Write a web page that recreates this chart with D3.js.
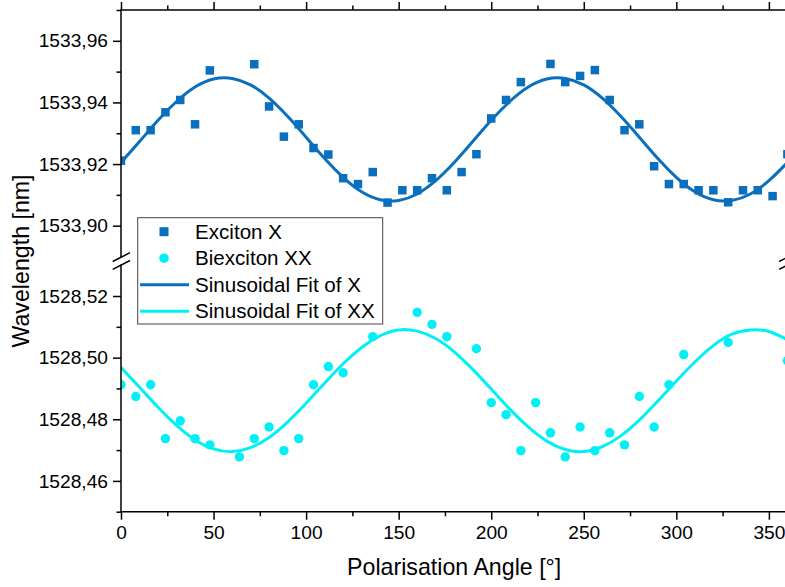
<!DOCTYPE html>
<html>
<head>
<meta charset="utf-8">
<script src="https://cdn.jsdelivr.net/npm/d3@7"></script>
<style>
  html, body { margin: 0; padding: 0; background: #fff; }
  svg { display: block; font-family: "Liberation Sans", Arial, sans-serif; }
</style>
</head>
<body>
<svg id="chart" width="785" height="587"></svg>
<script>
// ---------------- DATA ----------------
const xAngles = [0,8,16,24,32,40,48,72,80,88,96,104,112,120,128,136,144,152,160,168,176,184,192,200,208,216,232,240,248,256,264,272,280,288,296,304,312,320,328,336,344,352,360];
const xValues = [1533.9211,1533.9310,1533.9310,1533.9368,1533.9408,1533.9329,1533.9504,1533.9524,1533.9387,1533.9289,1533.9329,1533.9252,1533.9231,1533.9154,1533.9135,1533.9174,1533.9075,1533.9115,1533.9115,1533.9154,1533.9115,1533.9174,1533.9232,1533.9348,1533.9408,1533.9466,1533.9525,1533.9466,1533.9486,1533.9505,1533.9408,1533.9310,1533.9329,1533.9193,1533.9135,1533.9135,1533.9115,1533.9115,1533.9076,1533.9115,1533.9115,1533.9096,1533.9232];

const xxAngles = [0,8,16,24,32,40,48,64,72,80,88,96,104,112,120,136,160,168,176,192,200,208,216,224,232,240,248,256,264,272,280,288,296,304,328,360];
const xxValues = [1528.4912,1528.4874,1528.4912,1528.4737,1528.4795,1528.4737,1528.4717,1528.4678,1528.4737,1528.4775,1528.4698,1528.4737,1528.4912,1528.4971,1528.4951,1528.5068,1528.5147,1528.5108,1528.5068,1528.5029,1528.4854,1528.4815,1528.4698,1528.4854,1528.4756,1528.4678,1528.4775,1528.4698,1528.4756,1528.4717,1528.4874,1528.4775,1528.4912,1528.5010,1528.5049,1528.4990];

const fitAngles = [0,10,20,30,40,50,60,70,80,90,100,110,120,130,140,150,160,170,180,190,200,210,220,230,240,250,260,270,280,290,300,310,320,330,340,350,360];
const fitX = [1533.9205,1533.9273,1533.9342,1533.9403,1533.9450,1533.9476,1533.9478,1533.9457,1533.9414,1533.9355,1533.9287,1533.9218,1533.9157,1533.9110,1533.9084,1533.9082,1533.9103,1533.9146,1533.9205,1533.9273,1533.9342,1533.9403,1533.9450,1533.9476,1533.9478,1533.9457,1533.9414,1533.9355,1533.9287,1533.9218,1533.9157,1533.9110,1533.9084,1533.9082,1533.9103,1533.9146,1533.9205];
const fitXX = [1528.4968,1528.4904,1528.4839,1528.4780,1528.4733,1528.4704,1528.4695,1528.4708,1528.4741,1528.4791,1528.4852,1528.4917,1528.4980,1528.5033,1528.5071,1528.5090,1528.5086,1528.5062,1528.5019,1528.4962,1528.4898,1528.4833,1528.4775,1528.4729,1528.4702,1528.4695,1528.4711,1528.4746,1528.4797,1528.4859,1528.4924,1528.4986,1528.5039,1528.5076,1528.5090,1528.5085,1528.5058];

const xMajorTicks = [0,50,100,150,200,250,300,350];
const xMinorTicks = [25,75,125,175,225,275,325];
const upperMajorTicks = [1533.90,1533.92,1533.94,1533.96];
const upperMinorTicks = [1533.91,1533.93,1533.95,1533.97];
const lowerMajorTicks = [1528.46,1528.48,1528.50,1528.52];
const lowerMinorTicks = [1528.45,1528.47,1528.49,1528.51];

const legendLabels = ["Exciton X","Biexciton XX","Sinusoidal Fit of X","Sinusoidal Fit of XX"];
const xTitle = "Polarisation Angle [°]";
const yTitle = "Wavelength [nm]";

// ---------------- LAYOUT ----------------
const colX = "#0A70BE";
const colXX = "#00F0F5";
const left = 121, right = 787.4;
const upTop = 10, upBot = 256.5;
const loTop = 265.2, loBot = 511.7;

const svg = d3.select("#chart");
const loc = d3.formatLocale({decimal: ",", thousands: ".", grouping: [3], currency: ["", ""]});
const fmt = loc.format(".2f");

const x = d3.scaleLinear().domain([0, 360]).range([left, right]);
const yU = d3.scaleLinear().domain([1533.89, 1533.97]).range([upBot, upTop]);
const yL = d3.scaleLinear().domain([1528.45, 1528.53]).range([loBot, loTop]);

const defs = svg.append("defs");
defs.append("clipPath").attr("id", "clipU").append("rect")
  .attr("x", left).attr("y", upTop).attr("width", right - left).attr("height", upBot - upTop);
defs.append("clipPath").attr("id", "clipL").append("rect")
  .attr("x", left).attr("y", loTop).attr("width", right - left).attr("height", loBot - loTop);

// fit lines
const gU = svg.append("g").attr("clip-path", "url(#clipU)");
const gL = svg.append("g").attr("clip-path", "url(#clipL)");

const lineU = d3.line().x((d, i) => x(fitAngles[i])).y(d => yU(d)).curve(d3.curveNatural);
const lineL = d3.line().x((d, i) => x(fitAngles[i])).y(d => yL(d)).curve(d3.curveNatural);

gU.append("path").attr("d", lineU(fitX)).attr("fill", "none").attr("stroke", colX).attr("stroke-width", 3);
gL.append("path").attr("d", lineL(fitXX)).attr("fill", "none").attr("stroke", colXX).attr("stroke-width", 3);

// points
const sq = 8.5;
gU.selectAll("rect.pt").data(xValues).join("rect").attr("class", "pt")
  .attr("x", (d, i) => x(xAngles[i]) - sq / 2).attr("y", d => yU(d) - sq / 2)
  .attr("width", sq).attr("height", sq).attr("fill", colX);
gL.selectAll("circle.pt").data(xxValues).join("circle").attr("class", "pt")
  .attr("cx", (d, i) => x(xxAngles[i])).attr("cy", d => yL(d)).attr("r", 4.7).attr("fill", colXX);

// ---------------- AXES ----------------
function styleAxis(g) {
  g.select(".domain").remove();
  g.selectAll(".tick line").attr("stroke", "#000").attr("stroke-width", 1.5);
  g.selectAll(".tick text").attr("fill", "#000").attr("font-size", "19.2px")
    .attr("font-family", "'Liberation Sans', Arial, sans-serif");
}

// bottom axis
svg.append("g").attr("transform", `translate(0,${loBot})`)
  .call(d3.axisBottom(x).tickValues(xMajorTicks).tickSize(8).tickPadding(6).tickFormat(d3.format("d")))
  .call(styleAxis);
svg.append("g").attr("transform", `translate(0,${loBot})`)
  .call(d3.axisBottom(x).tickValues(xMinorTicks).tickSize(4.5).tickFormat(""))
  .call(styleAxis);
// top axis (no labels)
svg.append("g").attr("transform", `translate(0,${upTop})`)
  .call(d3.axisTop(x).tickValues(xMajorTicks).tickSize(8).tickFormat(""))
  .call(styleAxis);
svg.append("g").attr("transform", `translate(0,${upTop})`)
  .call(d3.axisTop(x).tickValues(xMinorTicks).tickSize(4.5).tickFormat(""))
  .call(styleAxis);

// left axes
svg.append("g").attr("transform", `translate(${left},0)`)
  .call(d3.axisLeft(yU).tickValues(upperMajorTicks).tickSize(8).tickPadding(5).tickFormat(fmt))
  .call(styleAxis);
svg.append("g").attr("transform", `translate(${left},0)`)
  .call(d3.axisLeft(yU).tickValues(upperMinorTicks).tickSize(4.5).tickFormat(""))
  .call(styleAxis);
svg.append("g").attr("transform", `translate(${left},0)`)
  .call(d3.axisLeft(yL).tickValues(lowerMajorTicks).tickSize(8).tickPadding(5).tickFormat(fmt))
  .call(styleAxis);
svg.append("g").attr("transform", `translate(${left},0)`)
  .call(d3.axisLeft(yL).tickValues(lowerMinorTicks).tickSize(4.5).tickFormat(""))
  .call(styleAxis);

// axis lines
const axisLines = [
  [left, upTop, right, upTop],
  [left, loBot, right, loBot],
  [left, upTop, left, upBot],
  [left, loTop, left, loBot],
  [right, upTop, right, upBot],
  [right, loTop, right, loBot]
];
svg.append("g").selectAll("line").data(axisLines).join("line")
  .attr("x1", d => d[0]).attr("y1", d => d[1]).attr("x2", d => d[2]).attr("y2", d => d[3])
  .attr("stroke", "#000").attr("stroke-width", 1.5).attr("stroke-linecap", "square");

// break marks
[left, right].forEach(cx => {
  const g = svg.append("g");
  [0, 7.8].forEach(o => {
    g.append("line")
      .attr("x1", cx - 8.3).attr("y1", 261.5 + o)
      .attr("x2", cx + 9).attr("y2", 252.7 + o)
      .attr("stroke", "#000").attr("stroke-width", 1.5);
  });
});

// axis titles
svg.append("text").attr("x", (left + right) / 2).attr("y", 575)
  .attr("text-anchor", "middle").attr("font-size", "23.2px").attr("fill", "#000").text(xTitle);
svg.append("text").attr("transform", `translate(29,261) rotate(-90)`)
  .attr("text-anchor", "middle").attr("font-size", "23.2px").attr("fill", "#000").text(yTitle);

// ---------------- LEGEND ----------------
const leg = svg.append("g");
leg.append("rect").attr("x", 137.7).attr("y", 217.7).attr("width", 245).attr("height", 106.3)
  .attr("fill", "#fff").attr("stroke", "#444").attr("stroke-width", 1);
const rowY = [231.7, 258.2, 284.8, 311.2];
leg.append("rect").attr("x", 164 - 4.5).attr("y", rowY[0] - 4.5).attr("width", 9).attr("height", 9).attr("fill", colX);
leg.append("circle").attr("cx", 164).attr("cy", rowY[1]).attr("r", 4.8).attr("fill", colXX);
leg.append("line").attr("x1", 140).attr("x2", 189).attr("y1", rowY[2]).attr("y2", rowY[2])
  .attr("stroke", colX).attr("stroke-width", 3);
leg.append("line").attr("x1", 140).attr("x2", 189).attr("y1", rowY[3]).attr("y2", rowY[3])
  .attr("stroke", colXX).attr("stroke-width", 3);
leg.selectAll("text").data(legendLabels).join("text")
  .attr("x", 195).attr("y", (d, i) => rowY[i] + 7.2)
  .attr("font-size", "20.6px").attr("fill", "#000").text(d => d);
</script>
</body>
</html>
